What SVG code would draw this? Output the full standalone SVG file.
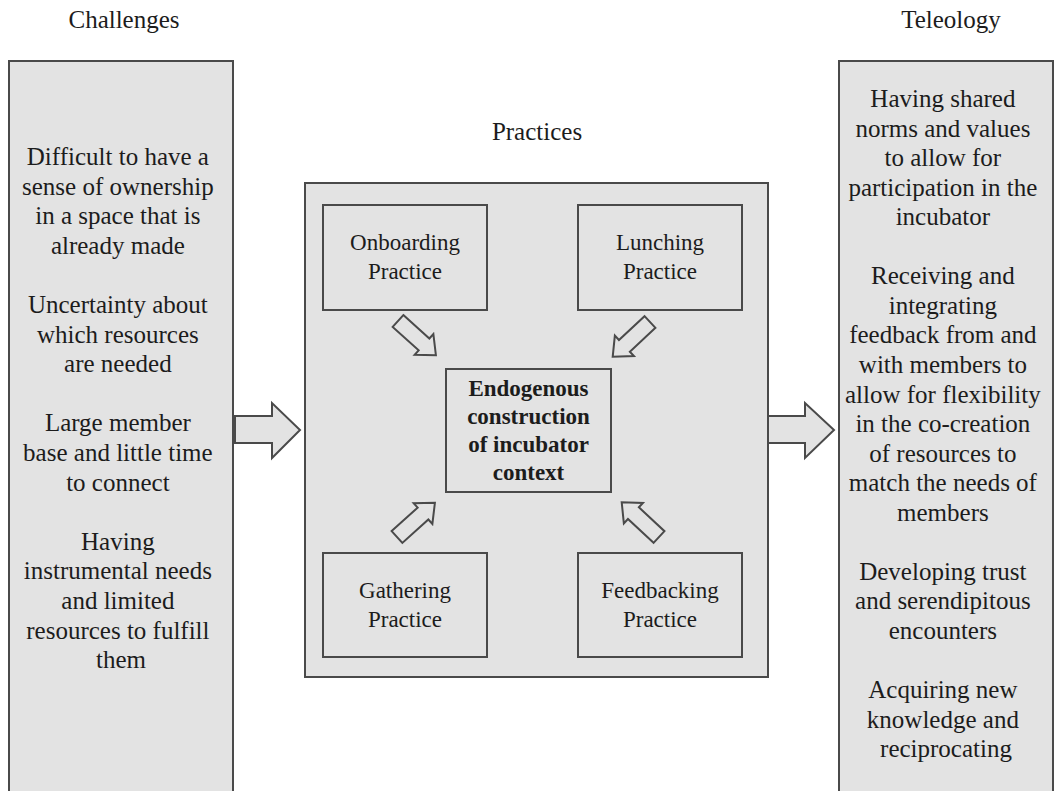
<svg xmlns="http://www.w3.org/2000/svg" width="1055" height="791" viewBox="0 0 1055 791">
<style>
.panel{fill:#e3e3e3;stroke:#4a4a4a;stroke-width:2}
.box{fill:#e3e3e3;stroke:#4a4a4a;stroke-width:2}
.arrow{fill:#e3e3e3;stroke:#4a4a4a;stroke-width:2;stroke-linejoin:miter}
text{font-family:"Liberation Serif","Times New Roman",serif;fill:#1c1c1c;text-anchor:middle}
.title{font-size:25px}
.body{font-size:25px}
.lbl{font-size:23px}
.bold{font-size:23px;font-weight:bold}
</style>
<defs>
<path id="blk" class="arrow" d="M0,-8 L35,-8 L35,-14 L51,0 L35,14 L35,8 L0,8 Z"/>
</defs>
<rect width="1055" height="791" fill="#fff"/>
<g id="titles">
<text class="title" x="124" y="28">Challenges</text>
<text class="title" x="951" y="28">Teleology</text>
<text class="title" x="537" y="140">Practices</text>
</g>
<g id="challenges">
<rect class="panel" x="9" y="61" width="224" height="760"/>
<text class="body">
<tspan x="121" y="165">Difficult to have a</tspan>
<tspan x="121" y="194.6">sense of ownership</tspan>
<tspan x="121" y="224.2">in a space that is</tspan>
<tspan x="121" y="253.8">already made</tspan>
<tspan x="121" y="313">Uncertainty about</tspan>
<tspan x="121" y="342.6">which resources</tspan>
<tspan x="121" y="372.2">are needed</tspan>
<tspan x="121" y="431.4">Large member</tspan>
<tspan x="121" y="461">base and little time</tspan>
<tspan x="121" y="490.6">to connect</tspan>
<tspan x="121" y="549.8">Having</tspan>
<tspan x="121" y="579.4">instrumental needs</tspan>
<tspan x="121" y="609">and limited</tspan>
<tspan x="121" y="638.6">resources to fulfill</tspan>
<tspan x="121" y="668.2">them</tspan>
</text>
</g>
<g id="teleology">
<rect class="panel" x="839" y="61" width="214" height="760"/>
<text class="body">
<tspan x="946" y="107">Having shared</tspan>
<tspan x="946" y="136.5">norms and values</tspan>
<tspan x="946" y="166.1">to allow for</tspan>
<tspan x="946" y="195.6">participation in the</tspan>
<tspan x="946" y="225.2">incubator</tspan>
<tspan x="946" y="284.3">Receiving and</tspan>
<tspan x="946" y="313.8">integrating</tspan>
<tspan x="946" y="343.4">feedback from and</tspan>
<tspan x="946" y="373">with members to</tspan>
<tspan x="946" y="402.5">allow for flexibility</tspan>
<tspan x="946" y="432">in the co-creation</tspan>
<tspan x="946" y="461.6">of resources to</tspan>
<tspan x="946" y="491.2">match the needs of</tspan>
<tspan x="946" y="520.7">members</tspan>
<tspan x="946" y="579.8">Developing trust</tspan>
<tspan x="946" y="609.4">and serendipitous</tspan>
<tspan x="946" y="638.9">encounters</tspan>
<tspan x="946" y="698">Acquiring new</tspan>
<tspan x="946" y="727.6">knowledge and</tspan>
<tspan x="946" y="757.1">reciprocating</tspan>
</text>
</g>
<g id="practices">
<rect class="panel" x="305" y="183" width="463" height="494"/>
</g>
<g id="onboarding">
<rect class="box" x="323" y="205" width="164" height="105"/>
<text class="lbl"><tspan x="405" y="249.5">Onboarding</tspan><tspan x="405" y="278.5">Practice</tspan></text>
</g>
<g id="lunching">
<rect class="box" x="578" y="205" width="164" height="105"/>
<text class="lbl"><tspan x="660" y="249.5">Lunching</tspan><tspan x="660" y="278.5">Practice</tspan></text>
</g>
<g id="gathering">
<rect class="box" x="323" y="553" width="164" height="104"/>
<text class="lbl"><tspan x="405" y="598">Gathering</tspan><tspan x="405" y="626.5">Practice</tspan></text>
</g>
<g id="feedbacking">
<rect class="box" x="578" y="553" width="164" height="104"/>
<text class="lbl"><tspan x="660" y="598">Feedbacking</tspan><tspan x="660" y="626.5">Practice</tspan></text>
</g>
<g id="center">
<rect class="box" x="446" y="369" width="165" height="123"/>
<text class="bold"><tspan x="528.5" y="396">Endogenous</tspan><tspan x="528.5" y="424">construction</tspan><tspan x="528.5" y="452">of incubator</tspan><tspan x="528.5" y="480">context</tspan></text>
</g>
<g id="connectors">
<polygon class="arrow" points="235,416 272,416 272,403 300,430 272,458 272,443 235,443"/>
<polygon class="arrow" points="768,416 805,416 805,403 834,430 805,458 805,443 768,443"/>
<use href="#blk" transform="translate(398,321) rotate(42)"/>
<use href="#blk" transform="translate(650,322) rotate(137)"/>
<use href="#blk" transform="translate(397,537) rotate(-42)"/>
<use href="#blk" transform="translate(659,537) rotate(-137)"/>
</g>
</svg>
